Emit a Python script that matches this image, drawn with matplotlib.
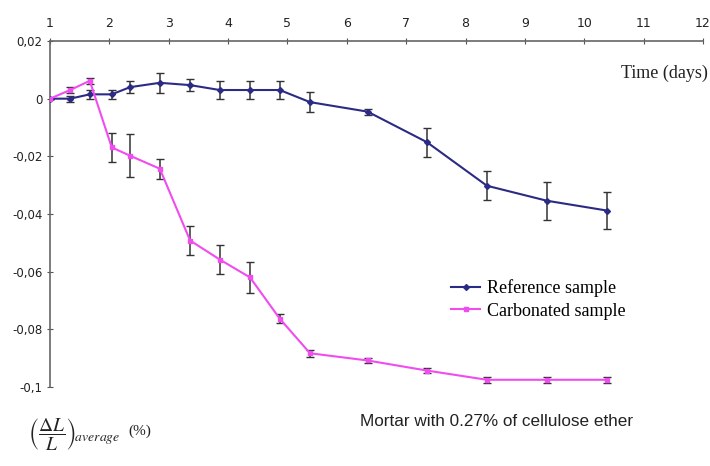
import numpy as np
import matplotlib.pyplot as plt

# days of measurement (shared by both series)
days = [1.0, 1.34, 1.67, 2.04, 2.35, 2.85, 3.36, 3.86, 4.37, 4.87,
        5.38, 6.35, 7.35, 8.36, 9.37, 10.38]

ref_vals = [0.0, 0.0, 0.0015, 0.0015, 0.004, 0.0055, 0.0047, 0.003, 0.003, 0.003,
            -0.0012, -0.0045, -0.0151, -0.0302, -0.0354, -0.0388]
ref_err = [0.0, 0.001, 0.0015, 0.0015, 0.002, 0.0035, 0.002, 0.003, 0.003, 0.003,
           0.0035, 0.001, 0.005, 0.005, 0.0066, 0.0065]

carb_vals = [0.0, 0.003, 0.0062, -0.0169, -0.0198, -0.0243, -0.0492, -0.0558, -0.062, -0.0763,
             -0.0883, -0.0908, -0.0943, -0.0975, -0.0975, -0.0975]
carb_err = [0.0, 0.001, 0.001, 0.005, 0.0075, 0.0035, 0.005, 0.005, 0.0055, 0.0015,
            0.0012, 0.001, 0.001, 0.001, 0.001, 0.001]

xticks = list(range(1, 13))
yticks = [0.02, 0.0, -0.02, -0.04, -0.06, -0.08, -0.1]
ytick_labels = ["0,02", "0", "-0,02", "-0,04", "-0,06", "-0,08", "-0,1"]

fig = plt.figure(figsize=(7.1, 4.66), dpi=100)
ax = fig.add_axes([50 / 710, 1 - 387 / 466, 653 / 710, 346 / 466])

# error bars first, then the lines on top
ax.errorbar(days, ref_vals, yerr=ref_err, fmt="none", ecolor="#333333",
            elinewidth=1.1, capsize=3, zorder=2)
ax.errorbar(days, carb_vals, yerr=carb_err, fmt="none", ecolor="#333333",
            elinewidth=1.1, capsize=3, zorder=2)
ax.plot(days, ref_vals, color="#2b2b86", lw=1.5, marker="D", ms=3,
        label="Reference sample", zorder=3)
ax.plot(days, carb_vals, color="#f04cf0", lw=1.5, marker="s", ms=3,
        label="Carbonated sample", zorder=4)

ax.set_xlim(1, 12)
ax.set_ylim(-0.1, 0.02)
ax.set_xticks(xticks)
ax.set_yticks(yticks)
ax.set_yticklabels(ytick_labels)
ax.xaxis.tick_top()
ax.tick_params(axis="x", direction="inout", length=4, labelsize=9, pad=6, colors="#555555",
               labelcolor="#222222")
ax.tick_params(axis="y", direction="inout", length=4, labelsize=8.5, colors="#555555",
               labelcolor="#222222")
for s in ("bottom", "right"):
    ax.spines[s].set_visible(False)
for s in ("top", "left"):
    ax.spines[s].set_color("#666666")
    ax.spines[s].set_linewidth(1.2)

leg = ax.legend(loc="upper left", bbox_to_anchor=(385 / 653, (387 - 263) / 346),
                frameon=False, handlelength=1.6, handletextpad=0.4, labelspacing=0.3,
                prop={"family": "Liberation Serif", "size": 13})

fig.text(708 / 710, 1 - 73 / 466, "Time (days)", ha="right", va="center",
         family="Liberation Serif", fontsize=13, color="#222222")
fig.text(497 / 710, 1 - 422 / 466, "Mortar with 0.27% of cellulose ether", ha="center",
         va="center", family="Liberation Sans", fontsize=12.3, color="#222222")
fig.text(28 / 710, 1 - 435 / 466,
         r"$\left(\dfrac{\Delta L}{L}\right)_{\!\mathit{average}}$",
         ha="left", va="center", fontsize=14, math_fontfamily="stix", color="#222222")
fig.text(128 / 710, 1 - 431 / 466, "(%)", ha="left", va="center",
         family="Liberation Serif", fontsize=11, color="#222222")

fig.savefig("out.png", dpi=100)
